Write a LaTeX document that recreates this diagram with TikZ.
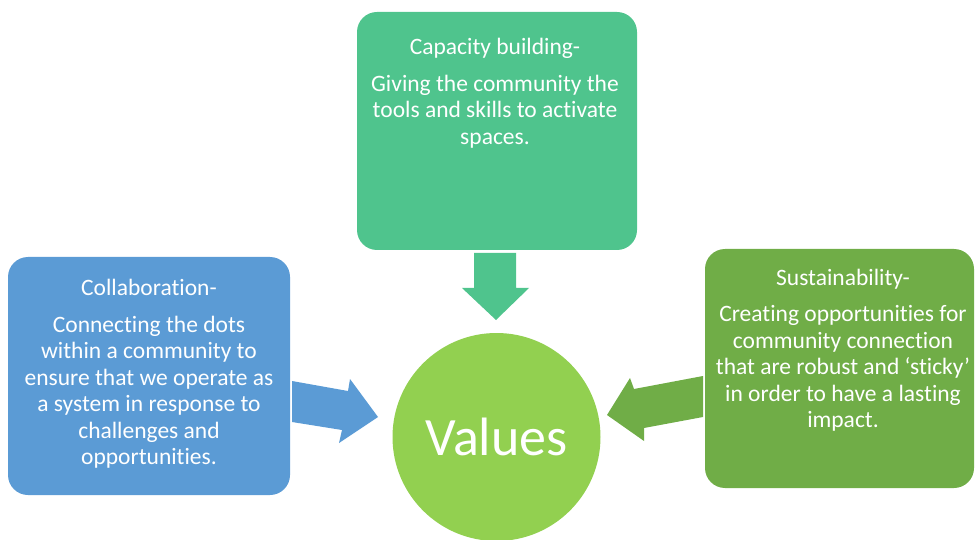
\documentclass[tikz,border=0pt]{standalone}
\usepackage{fontspec}
\setmainfont{Carlito}[Ligatures=NoCommon]
\definecolor{capgreen}{HTML}{4FC48D}
\definecolor{colblue}{HTML}{5B9BD5}
\definecolor{susgreen}{HTML}{70AD47}
\definecolor{valgreen}{HTML}{92D050}
\tikzset{
  valuebox/.style={rounded corners=20pt, draw=none},
  boxtext/.style={text=white, align=center, inner sep=0pt,
    font=\fontsize{23.5}{26.5}\selectfont},
  blockarrow/.style={draw=none},
}
\begin{document}
\begin{tikzpicture}[x=1pt,y=-1pt]
\useasboundingbox (0,0) rectangle (975,540);
% boxes
\fill[capgreen, valuebox] (357,12) rectangle (637,250);
\fill[colblue, valuebox] (8,257) rectangle (290,495);
\fill[susgreen, valuebox] (705,249) rectangle (974,488);
% centre circle
\node[circle, fill=valgreen, minimum size=208pt, inner sep=0pt,
  text=white, font=\fontsize{54}{60}\selectfont] (values) at (496.5,437) {Values};
% box texts
\node[boxtext, anchor=north] (cap) at (495,38)
  {Capacity building-\\[10pt]Giving the community the\\tools and skills to activate\\spaces.};
\node[boxtext] (col) at (149,374)
  {Collaboration-\\[10pt]Connecting the dots\\within a community to\\ensure that we operate as\\a system in response to\\challenges and\\opportunities.};
\node[boxtext] (sus) at (843,350)
  {Sustainability-\\[10pt]Creating opportunities for\\community connection\\that are robust and ‘sticky’\\in order to have a lasting\\impact.};
% block arrows pointing at the circle
\fill[capgreen, blockarrow] (474,253) -- (516,253) -- (516,288) -- (529,288)
  -- (496,320) -- (462,288) -- (474,288) -- cycle;
\fill[colblue, blockarrow] (292,381) -- (348,391) -- (350,379) -- (378,417)
  -- (339,443) -- (342,430) -- (292,422) -- cycle;
\fill[susgreen, blockarrow] (703,376) -- (634,389) -- (630,378) -- (607,415)
  -- (644,441) -- (644,428) -- (703,417) -- cycle;
\end{tikzpicture}
\end{document}
